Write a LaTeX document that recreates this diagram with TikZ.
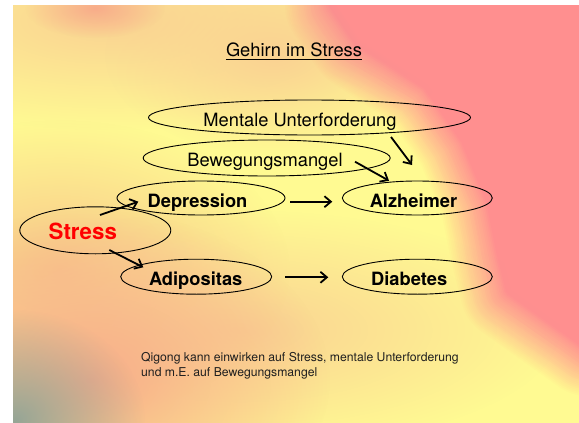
\documentclass[tikz,border=0pt]{standalone}
\usepackage{fontspec}
\setmainfont{TeX Gyre Heros}
\usetikzlibrary{shapes.geometric,arrows.meta,fadings,calc}
\tikzfading[name=softblob, inner color=transparent!0, outer color=transparent!100]
\definecolor{yel}{RGB}{255,250,146}
\definecolor{pnk}{RGB}{255,143,143}
\definecolor{peach}{RGB}{250,210,146}
\definecolor{orng}{RGB}{248,198,138}
\definecolor{salmon}{RGB}{248,172,138}
\definecolor{grayc}{RGB}{150,165,150}
\begin{document}
\begin{tikzpicture}[x=1pt,y=-1pt,
  oval/.style={draw=black, line width=0.9pt, ellipse, inner sep=0pt},
  lbl/.style={anchor=base, inner sep=0pt, font=\fontsize{18.3}{20}\selectfont},
  blbl/.style={anchor=base, inner sep=0pt, font=\fontsize{18.3}{20}\selectfont\bfseries},
  notetxt/.style={anchor=base west, inner sep=0pt, text=black!88, font=\fontsize{12.2}{14}\selectfont},
  arr/.style={-{Straight Barb[length=6.5pt,width=11pt]}, line width=1.8pt},
  blob/.style={path fading=softblob}
  ]
\useasboundingbox (0,0) rectangle (579,423);
\fill[white] (0,0) rectangle (579,423);
\begin{scope}
  \clip (13,5) rectangle (579,423);
  \fill[yel] (13,5) rectangle (579,423);
  % soft blobs
  \fill[peach, blob] (110,20) ellipse [x radius=300, y radius=110];
  \fill[peach, blob] (275,55) ellipse [x radius=170, y radius=100];
  \fill[salmon, blob] (95,8) ellipse [x radius=70, y radius=30];
  \fill[orng, blob] (60,270) ellipse [x radius=230, y radius=150];
  \fill[peach, blob] (240,330) ellipse [x radius=320, y radius=120];
  \fill[salmon, blob] (90,380) ellipse [x radius=240, y radius=170];
  \fill[grayc, blob] (15,420) ellipse [x radius=130, y radius=110];
  % pink region with soft (linear) edge
  \foreach \k in {1,...,30}{
    \pgfmathsetmacro\op{1/(\k+0.5)}
    \pgfmathsetmacro\lw{\k*3.4}
    \draw[pnk, opacity=\op, line width=\lw pt, line join=round]
      (336,-40) -- (336,5) -- (360,40) -- (428,85) -- (466,140) -- (491,200) -- (501,250) -- (511,290) -- (588,345) -- (640,345) -- (640,-40) -- cycle;
  }
  \fill[pnk] (336,-40) -- (336,5) -- (360,40) -- (428,85) -- (466,140) -- (491,200) -- (501,250) -- (511,290) -- (588,345) -- (640,345) -- (640,-40) -- cycle;
\end{scope}

% title
\node[lbl] (title) at (294,56.7) {Gehirn im Stress};
\draw[line width=1.3pt] ([shift={(0,2.8)}]title.base west) -- ([shift={(0,2.8)}]title.base east);

% ellipses
\node[oval, minimum width=322pt, minimum height=35pt] (mentale) at (309.5,117.5) {};
\node[oval, minimum width=247pt, minimum height=36pt] (bewegung) at (266.7,158) {};
\node[oval, minimum width=168pt, minimum height=34pt] (depression) at (201,198) {};
\node[oval, minimum width=150pt, minimum height=34pt] (alzheimer) at (417.3,198) {};
\node[oval, minimum width=151pt, minimum height=47pt] (stress) at (95.3,230.3) {};
\node[oval, minimum width=151pt, minimum height=35pt] (adipositas) at (196.2,276.7) {};
\node[oval, minimum width=150pt, minimum height=35pt] (diabetes) at (417.3,276.7) {};

% texts
\node[lbl] (mentaleT) at (300,126.7) {Mentale Unterforderung};
\node[lbl] (bewegungT) at (265,166.7) {Bewegungsmangel};
\node[blbl] (depressionT) at (197.5,207) {Depression};
\node[blbl] (alzheimerT) at (413.5,207) {Alzheimer};
\node[anchor=base, inner sep=0pt, text=red, font=\fontsize{22.3}{24}\selectfont\bfseries] (stressT) at (82.8,239.3) {Stress};
\node[blbl] (adipositasT) at (195.7,285.7) {Adipositas};
\node[blbl] (diabetesT) at (409.2,285.7) {Diabetes};

% arrows
\coordinate (mentaleEnd) at (412,165);
\draw[arr] ([shift={(81.5,19.5)}]mentale.center) -- (mentaleEnd);
\draw[arr] ([shift={(88.3,3.7)}]bewegung.center) -- ([shift={(-28.3,-17.3)}]alzheimer.center);
\draw[arr] ([shift={(4.7,-15.3)}]stress.center) -- ([shift={(-62.7,3.7)}]depression.center);
\draw[arr] ([shift={(14,19.7)}]stress.center) -- ([shift={(-52.9,-9.4)}]adipositas.center);
\draw[arr] ([shift={(89,3.7)}]depression.center) -- ([shift={(-85,3.7)}]alzheimer.center);
\draw[arr] ([shift={(88.8,0.6)}]adipositas.center) -- ([shift={(-89,0.6)}]diabetes.center);

% note
\node[notetxt] (note1) at (141,361.7) {Qigong kann einwirken auf Stress, mentale Unterforderung};
\node[notetxt] (note2) at (141,376) {und m.E. auf Bewegungsmangel};
\end{tikzpicture}
\end{document}
